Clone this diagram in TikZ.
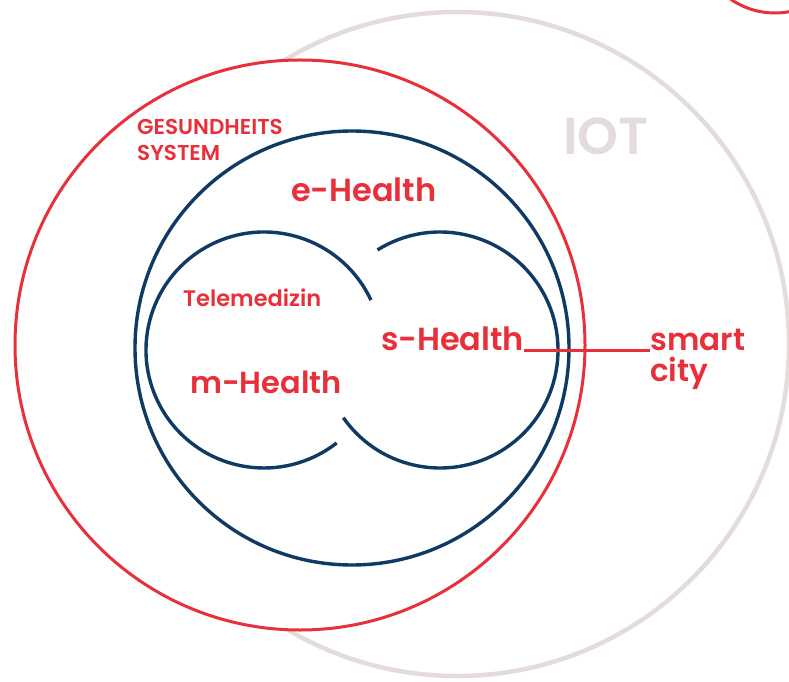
\documentclass[tikz,border=0pt]{standalone}
\usepackage{fontspec}
\setmainfont{Poppins}[BoldFont={Poppins SemiBold}]
\definecolor{hred}{HTML}{E8303A}
\definecolor{hnavy}{HTML}{0E3A64}
\definecolor{hgray}{HTML}{E4DCDB}
\begin{document}
\begin{tikzpicture}[x=1pt,y=1pt,
  lbl/.style={text=hred,font=\bfseries,inner sep=0pt,anchor=base west},
  big/.style={lbl,font=\fontsize{32}{38}\selectfont\bfseries},
  redline/.style={draw=hred,line width=3pt},
  navyline/.style={draw=hnavy,line width=3.4pt},
  grayline/.style={draw=hgray,line width=4.5pt}]
\useasboundingbox (0,0) rectangle (789,681);
% circles
\draw[grayline] (457,337) circle[radius=332];
\draw[redline,fill=white] (300,336) circle[radius=285];
\draw[redline] (775,746) circle[radius=78];
\draw[navyline] (352,333) circle[radius=217];
\draw[navyline] ([shift={(25:118)}]264,331) arc[start angle=25,end angle=308,radius=118];
\draw[navyline] ([shift={(-145:118)}]440,331) arc[start angle=-145,end angle=122,radius=118];
% labels
\node[lbl,font=\fontsize{21.5}{24}\selectfont\bfseries] (g1) at (137,546) {GESUNDHEITS};
\node[lbl,font=\fontsize{21.5}{24}\selectfont\bfseries] (g2) at (137,520) {SYSTEM};
\node[big] (eh) at (291,479) {e-Health};
\node[lbl,font=\fontsize{22.5}{26}\selectfont\bfseries] (tm) at (183,375) {Telemedizin};
\node[big] (sh) at (381,331) {s-Health};
\node[big,font=\fontsize{30.5}{36}\selectfont\bfseries] (mh) at (190,288) {m-Health};
\node[big,font=\fontsize{31}{36}\selectfont\bfseries] (sm) at (650,331) {smart};
\node[big,font=\fontsize{31}{36}\selectfont\bfseries] (ci) at (650,300) {city};
\node[lbl,text=hgray,font=\fontsize{52}{60}\selectfont\bfseries] (iot) at (563,526) {IOT};
% connector
\draw[redline] (sh.base east) -- (sm.base west);
\end{tikzpicture}
\end{document}
